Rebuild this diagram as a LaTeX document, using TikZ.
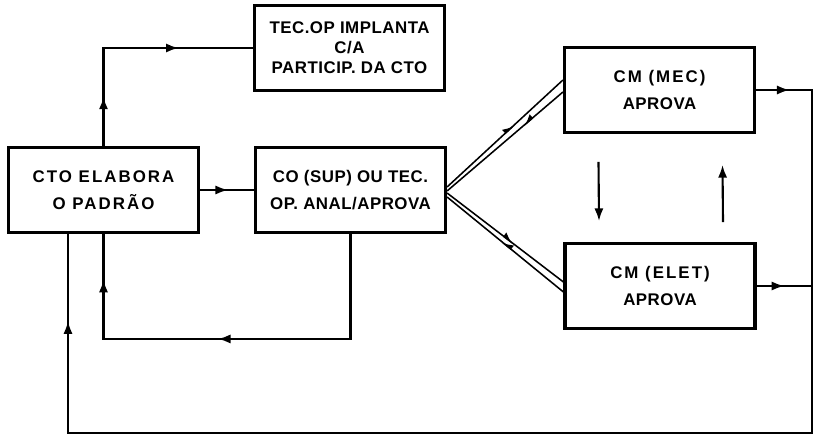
\documentclass[tikz,border=0pt]{standalone}
\usepackage{fontspec}
\setmainfont{Liberation Sans}[LetterSpace=3]
\usetikzlibrary{arrows.meta}
\usetikzlibrary{decorations.markings}
\usetikzlibrary{calc}

\tikzset{
  bloco/.style={draw, line width=2.2pt, minimum width=4.75cm, minimum height=2.12cm,
    align=center, font=\bfseries\fontsize{12}{14.2}\selectfont},
  largo/.style={font=\bfseries\fontsize{12}{14.2}\selectfont\addfontfeatures{LetterSpace=12}},
  liga/.style={line width=1.5pt},
  fina/.style={line width=1.1pt},
  meio/.style={postaction={decorate, decoration={markings,
    mark=at position #1 with {\arrow{Latex[length=9pt,width=6.5pt]}}}}},
  farpa/.style={postaction={decorate, decoration={markings,
    mark=at position #1 with {\arrow{Latex[harpoon,length=7pt,width=7pt]}}}}},
  farpavolta/.style={postaction={decorate, decoration={markings,
    mark=at position #1 with {\arrowreversed{Latex[harpoon,length=7pt,width=7pt]}}}}}
}

\begin{document}
\begin{tikzpicture}[x=0.025cm, y=-0.025cm]
\useasboundingbox (0,0) rectangle (814,438);

% blocos
\node[bloco, largo] (cto) at (103.5,190) {CTO ELABORA\\[5pt]O PADRÃO};
\node[bloco] (co) at (350.5,190) {CO (SUP) OU TEC.\\[5pt]OP. ANAL/APROVA};
\node[bloco] (tec) at (349.5,48) {TEC.OP IMPLANTA\\C/A\\PARTICIP. DA CTO};
\node[bloco] (mec) at (659.5,90) {{\addfontfeatures{LetterSpace=12}CM (MEC)}\\[5pt]APROVA};
\node[bloco] (elet) at (660,286) {{\addfontfeatures{LetterSpace=12}CM (ELET)}\\[5pt]APROVA};

\coordinate (dir) at (812,433);
\coordinate (esq) at (68,433);

% ligacoes
\draw[liga, meio=0.52] (cto.east) -- (co.west);
\draw[liga, meio=0.2, meio=0.7] (cto.north) |- (tec.west);
\draw[liga, meio=0.52, meio=0.9] (co.south) -- ++(0,105) -| (cto.south);

\draw[fina, farpa=0.58] ($(co.east)+(0,-3)$) -- ($(mec.west)+(0,-10)$);
\draw[fina, farpavolta=0.66] ($(co.east)+(0,1)$) -- ($(mec.west)+(0,2)$);
\draw[fina, farpa=0.57] ($(co.east)+(0,3)$) -- ($(elet.west)+(0,-4)$);
\draw[fina, farpavolta=0.47] ($(co.east)+(0,7)$) -- ($(elet.west)+(0,6)$);

\draw[liga, -{Latex[length=9pt,width=6.5pt]}] ($(mec.south)+(-61,28)$) -- ($(elet.north)+(-61,-21)$);
\draw[liga, -{Latex[length=9pt,width=6.5pt]}] ($(elet.north)+(63,-20)$) -- ($(mec.south)+(63,31)$);

% retorno
\draw[liga, meio=0.025, meio=0.935] (mec.east) -- (mec.east -| dir) -- (dir) -- (esq) -- (esq |- cto.south);
\draw[liga, meio=0.5] (elet.east) -- (elet.east -| dir);

\end{tikzpicture}
\end{document}
